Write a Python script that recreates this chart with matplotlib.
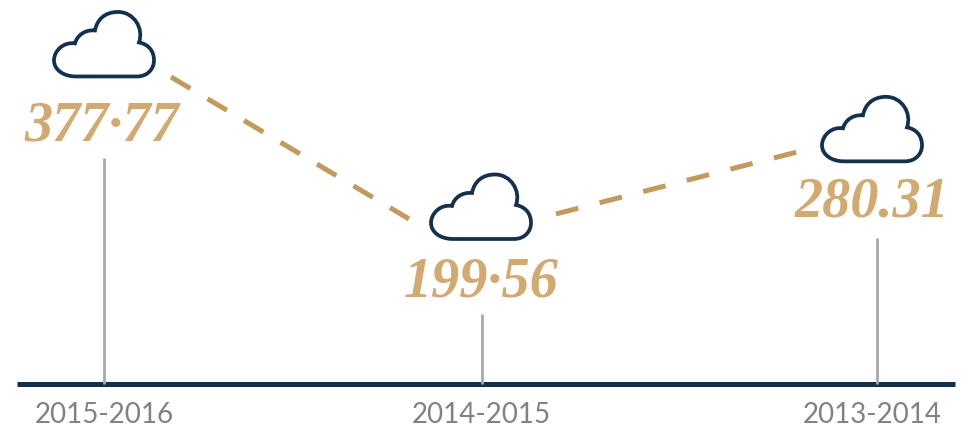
import matplotlib
matplotlib.use("Agg")
import matplotlib.pyplot as plt
from matplotlib.path import Path
from matplotlib.patches import PathPatch
from matplotlib.transforms import Affine2D

years = ["2015-2016", "2014-2015", "2013-2014"]
values = [377.77, 199.56, 280.31]
labels = ["377·77", "199·56", "280.31"]
stem_tops = [256.6, 85.5, 168.8]

# dashed connectors
link_1_x = [171, 409]
link_1_y = [345.4, 189.7]
link_2_x = [556, 797]
link_2_y = [195.2, 263.1]

navy = "#12304f"
gold_line = "#c49a5a"
gold_text = "#d2a96f"
grey_stem = "#a7a9ac"
grey_text = "#808285"

x_pos = [104, 482, 877]
cloud_dx = [0, -1, -5]
cloud_dy = [3, 3, 7]
label_dx = [-2, -1, -5]
label_dy = [-79, -73, -66]
tick_dx = [0, -1, -5]

fig = plt.figure(figsize=(9.61, 4.28), dpi=100)
ax = fig.add_axes([0, 0, 1, 1])
ax.set_xlim(0, 961)
ax.set_ylim(-39.5, 429.8)
ax.axis("off")

# cloud outline, px relative to its centre, y pointing up
verts = [
    (-28, -32), (33, -32),
    (44, -32), (50, -24), (50, -16),
    (50, -7), (45, 0), (35, 2),
    (40, 16), (30, 32.5), (14, 32.5),
    (1, 32.5), (-7, 25), (-9, 14),
    (-19, 15), (-27, 9), (-29, 1),
    (-40, 3), (-50, -6), (-50, -16),
    (-50, -25), (-41, -32), (-28, -32),
]
codes = [Path.MOVETO, Path.LINETO] + [Path.CURVE4] * 21
cloud = Path(verts, codes)

ax.plot(link_1_x, link_1_y, color=gold_line, lw=3.6, ls=(0, (4.5, 4.0)), dash_capstyle="butt")
ax.plot(link_2_x, link_2_y, color=gold_line, lw=3.6, ls=(0, (4.6, 4.4)), dash_capstyle="butt")

ax.plot([17, 955], [8.6, 8.6], color=navy, lw=3.6, solid_capstyle="butt", zorder=1)
ax.vlines(x_pos, 8.6, stem_tops, color=grey_stem, lw=2, zorder=2)

for i in range(len(values)):
    cx, cy = ax.transData.transform((x_pos[i], values[i]))
    tr = Affine2D().translate(cx + cloud_dx[i], cy + cloud_dy[i])
    ax.add_patch(PathPatch(cloud, transform=tr, fill=False, ec=navy, lw=2.7))
    ax.annotate(labels[i], xy=(x_pos[i], values[i]), xycoords="data",
                xytext=(label_dx[i], label_dy[i]), textcoords="offset pixels",
                ha="center", va="center", family="Liberation Serif",
                style="italic", weight="bold", fontsize=40.5, color=gold_text)
    ax.text(x_pos[i] + tick_dx[i], -25, years[i], ha="center", va="center",
            family="Lato", fontsize=20, color=grey_text)

fig.savefig("out.png", dpi=100)
